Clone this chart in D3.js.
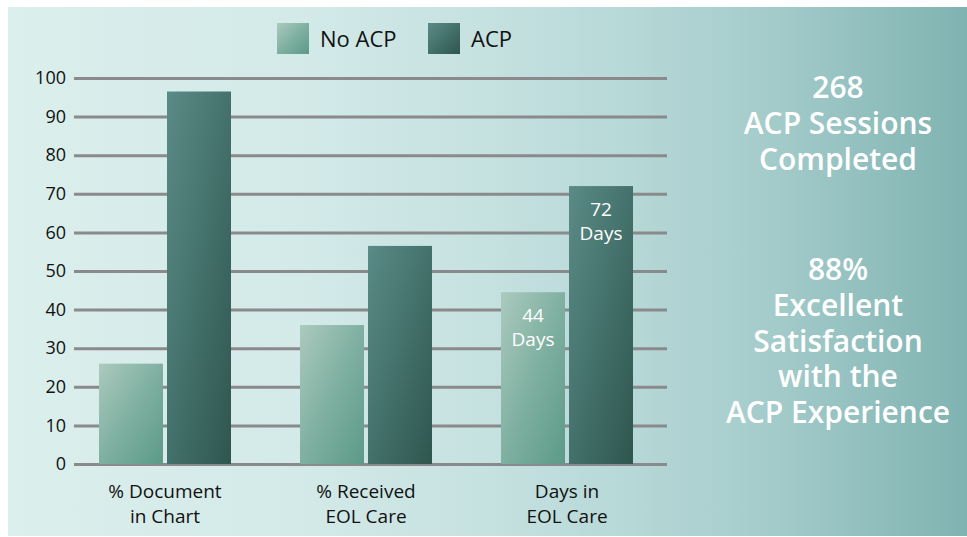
<html>
<head>
<meta charset="utf-8">
<script src="https://d3js.org/d3.v7.min.js"></script>
<style>
  body { margin: 0; background: #ffffff; }
  text { font-family: "Open Sans", "Noto Sans", sans-serif; }
</style>
</head>
<body>
<div id="graph"></div>
<script>
  // data
  const categories = [["% Document", "in Chart"], ["% Received", "EOL Care"], ["Days in", "EOL Care"]];
  const series = ["No ACP", "ACP"];
  const noAcp = [26, 36, 44.5];
  const acp = [96.5, 56.5, 72];
  const barLabels = {2: ["44 Days", "72 Days"]};
  const yTicks = [0, 10, 20, 30, 40, 50, 60, 70, 80, 90, 100];
  const sideBlocks = [["268", "ACP Sessions", "Completed"],
                      ["88%", "Excellent", "Satisfaction", "with the", "ACP Experience"]];

  const W = 967, H = 537;
  const svg = d3.select('#graph').append('svg')
    .attr('width', W).attr('height', H);

  const defs = svg.append('defs');
  // background
  const bg = defs.append('linearGradient').attr('id', 'bg')
    .attr('x1', 0).attr('y1', 0).attr('x2', 1).attr('y2', 0);
  [[0, '#dbefec'], [0.3, '#d3eae8'], [0.5, '#c5e1e0'], [0.65, '#b6d8d7'],
   [0.8, '#a3cbca'], [1, '#7fb3b1']].forEach(function (s) {
    bg.append('stop').attr('offset', s[0]).attr('stop-color', s[1]);
  });
  const g1 = defs.append('linearGradient').attr('id', 'gNo')
    .attr('x1', 0).attr('y1', 0).attr('x2', 1).attr('y2', 1);
  g1.append('stop').attr('offset', 0).attr('stop-color', '#abcabe');
  g1.append('stop').attr('offset', 0.5).attr('stop-color', '#7fb0a1');
  g1.append('stop').attr('offset', 1).attr('stop-color', '#5c9a88');
  const g2 = defs.append('linearGradient').attr('id', 'gAcp')
    .attr('x1', 0).attr('y1', 0).attr('x2', 1).attr('y2', 1);
  g2.append('stop').attr('offset', 0).attr('stop-color', '#5b8b87');
  g2.append('stop').attr('offset', 0.5).attr('stop-color', '#44716b');
  g2.append('stop').attr('offset', 1).attr('stop-color', '#2e564e');
  const fills = {"No ACP": 'url(#gNo)', "ACP": 'url(#gAcp)'};

  svg.append('rect').attr('x', 8).attr('y', 7).attr('width', W - 8).attr('height', H - 8)
    .style('fill', 'url(#bg)');

  // scales
  const y = d3.scaleLinear().domain([0, 100]).range([464, 78]);
  const x0 = d3.scaleBand().domain(d3.range(categories.length)).range([64.5, 667.5]).padding(0);
  const x1 = d3.scaleBand().domain(series).range([0, 132]).paddingInner(4 / 68);
  const groupOff = (x0.bandwidth() - 132) / 2;

  // gridlines + y labels
  const yAxis = svg.append('g').attr('transform', 'translate(74,0)')
    .call(d3.axisLeft(y).tickValues(yTicks).tickSize(-593).tickPadding(8));
  yAxis.select('.domain').remove();
  yAxis.selectAll('.tick line').attr('stroke', '#8a8a8c').attr('stroke-width', 3);
  yAxis.selectAll('.tick text').attr('fill', '#111').style('font-size', '18px')
    .style('font-family', '"Open Sans", sans-serif');

  // bars
  const rows = categories.map(function (c, i) {
    return [{s: "No ACP", v: noAcp[i]}, {s: "ACP", v: acp[i]}];
  });
  const grp = svg.append('g').selectAll('g').data(rows).enter().append('g')
    .attr('transform', function (d, i) { return 'translate(' + (x0(i) + groupOff) + ',0)'; });
  grp.selectAll('rect').data(function (d) { return d; }).enter().append('rect')
    .attr('x', function (d) { return x1(d.s); })
    .attr('y', function (d) { return y(d.v); })
    .attr('width', x1.bandwidth())
    .attr('height', function (d) { return y(0) - y(d.v); })
    .style('fill', function (d) { return fills[d.s]; });

  // labels inside the Days bars
  Object.keys(barLabels).forEach(function (key) {
    const i = +key;
    rows[i].forEach(function (d, k) {
      const parts = barLabels[i][k].split(' ');
      const cx = x0(i) + groupOff + x1(d.s) + x1.bandwidth() / 2;
      const t = svg.append('text').attr('text-anchor', 'middle').attr('fill', '#fff')
        .style('font-size', '19px');
      t.append('tspan').attr('x', cx).attr('y', y(d.v) + 30).text(parts[0]);
      t.append('tspan').attr('x', cx).attr('y', y(d.v) + 54).text(parts[1]);
    });
  });

  // category labels
  categories.forEach(function (c, i) {
    const cx = x0(i) + x0.bandwidth() / 2;
    const t = svg.append('text').attr('text-anchor', 'middle').attr('fill', '#111')
      .style('font-size', '19px');
    t.append('tspan').attr('x', cx).attr('y', 498).text(c[0]);
    t.append('tspan').attr('x', cx).attr('y', 523).text(c[1]);
  });

  // legend
  const legX = [277, 428];
  series.forEach(function (s, i) {
    svg.append('rect').attr('x', legX[i]).attr('y', 23).attr('width', 32).attr('height', 31)
      .style('fill', fills[s]);
    svg.append('text').attr('x', legX[i] + 43).attr('y', 47).attr('fill', '#111')
      .style('font-size', '22px').text(s);
  });

  // side text
  const sideY = [98, 280];
  sideBlocks.forEach(function (lines, b) {
    const t = svg.append('text').attr('text-anchor', 'middle').attr('fill', '#fff')
      .style('font-size', '30px').style('font-weight', 600);
    lines.forEach(function (l, j) {
      t.append('tspan').attr('x', 838).attr('y', sideY[b] + j * 35.8).text(l);
    });
  });
</script>
</body>
</html>
